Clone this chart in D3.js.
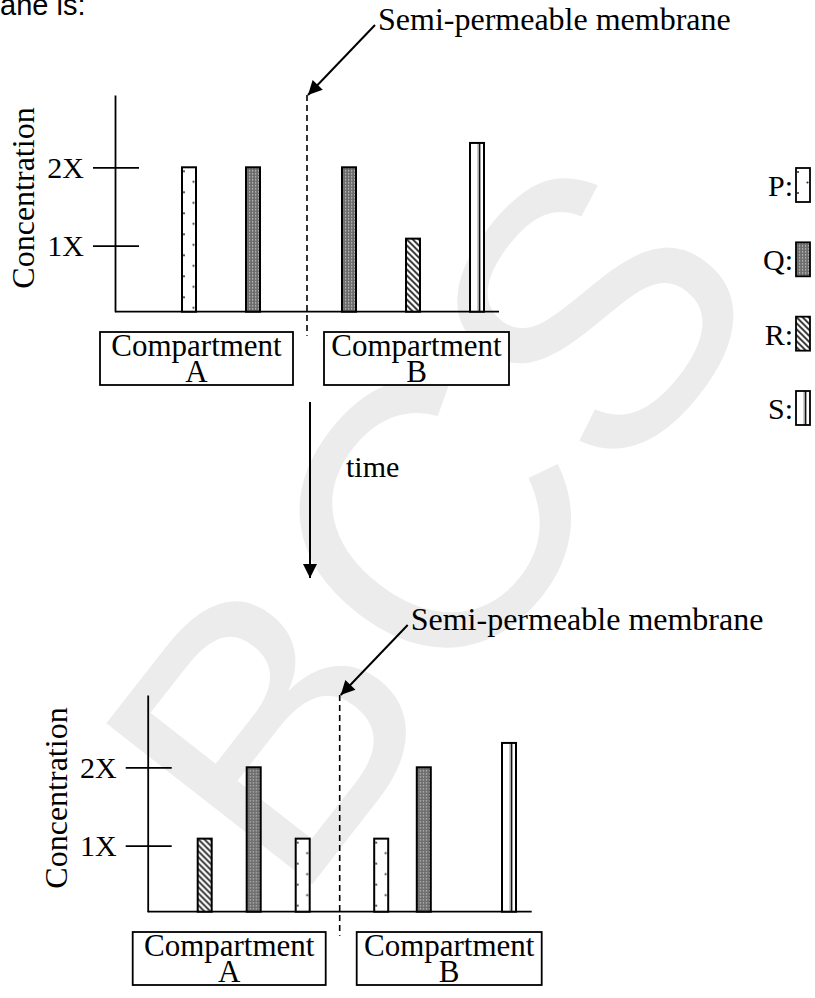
<!DOCTYPE html>
<html>
<head>
<meta charset="utf-8">
<script src="https://cdn.jsdelivr.net/npm/d3@7"></script>
<style>
  body { margin: 0; background: #fff; }
  svg { display: block; }
  text { font-family: "Liberation Serif", "Times New Roman", serif; fill: #000; }
</style>
</head>
<body>
<svg width="815" height="998"></svg>
<script>
// species shown in the legend
var species = ["P", "Q", "R", "S"];

// concentration ticks (multiples of X)
var tickValues = [1, 2];
var tickLabels = ["1X", "2X"];

// before: compartment A / B
var beforeASpecies = ["P", "Q"];
var beforeAValues = [2, 2];
var beforeBSpecies = ["Q", "R", "S"];
var beforeBValues = [2, 1.09, 2.31];

// after time: compartment A / B (R is gone from B)
var afterASpecies = ["R", "Q", "P"];
var afterAValues = [1.09, 2, 1.09];
var afterBSpecies = ["P", "Q", "R", "S"];
var afterBValues = [1.09, 2, 0, 2.31];

var svg = d3.select("svg");

// watermark behind everything
svg.append("text")
	.attr("transform", "translate(430,520) rotate(-52)")
	.attr("text-anchor", "middle")
	.attr("dominant-baseline", "central")
	.style("font-family", "'Liberation Sans', Arial, sans-serif")
	.style("font-size", "380px")
	.style("fill", "#ececec")
	.text("BCS");

var defs = svg.append("defs");

// fill patterns, tiles start at each bar's own top-left corner
var pP = defs.append("pattern").attr("id", "pat-P")
	.attr("patternUnits", "userSpaceOnUse").attr("width", 14).attr("height", 21);
pP.append("rect").attr("width", 14).attr("height", 21).attr("fill", "#fff");
pP.append("circle").attr("cx", 2).attr("cy", 4).attr("r", 1.1).attr("fill", "#333");
pP.append("circle").attr("cx", 11.5).attr("cy", 14.5).attr("r", 1.1).attr("fill", "#333");

var pQ = defs.append("pattern").attr("id", "pat-Q")
	.attr("patternUnits", "userSpaceOnUse").attr("width", 3).attr("height", 3);
pQ.append("rect").attr("width", 3).attr("height", 3).attr("fill", "#6c6c6c");
pQ.append("rect").attr("width", 1.2).attr("height", 1.2).attr("fill", "#d0d0d0");

var pR = defs.append("pattern").attr("id", "pat-R")
	.attr("patternUnits", "userSpaceOnUse").attr("width", 6).attr("height", 6);
pR.append("rect").attr("width", 6).attr("height", 6).attr("fill", "#fff");
pR.append("path").attr("d", "M-1,-1L7,7M-4,2L2,8M2,-4L8,2")
	.attr("stroke", "#222").attr("stroke-width", 1.8);

var pS = defs.append("pattern").attr("id", "pat-S")
	.attr("patternUnits", "userSpaceOnUse").attr("width", 14).attr("height", 10);
pS.append("rect").attr("width", 14).attr("height", 10).attr("fill", "#fff");
pS.append("line").attr("x1", 8).attr("x2", 8).attr("y1", 0).attr("y2", 10)
	.attr("stroke", "#999").attr("stroke-width", 1);
pS.append("line").attr("x1", 9.6).attr("x2", 9.6).attr("y1", 0).attr("y2", 10)
	.attr("stroke", "#111").attr("stroke-width", 1.6);

defs.append("marker").attr("id", "arrow")
	.attr("viewBox", "0 0 10 10").attr("refX", 10).attr("refY", 5)
	.attr("markerUnits", "userSpaceOnUse")
	.attr("markerWidth", 18).attr("markerHeight", 14)
	.attr("orient", "auto")
	.append("path").attr("d", "M0,0L10,5L0,10z").attr("fill", "#000");

var barW = 14;

function panel(ox, oy, aSpecies, aValues, bSpecies, bValues, aRange, bRange) {
	var g = svg.append("g").attr("transform", "translate(" + ox + "," + oy + ")");

	var y = d3.scaleLinear()
		.domain([0, 1, 2, 2.92])
		.range([216.7, 150.7, 72.3, 0]);

	var xA = d3.scalePoint().domain(aSpecies).range(aRange);
	var xB = d3.scalePoint().domain(bSpecies).range(bRange);

	// y axis with ticks crossing the line
	var axis = g.append("g")
		.call(d3.axisLeft(y).tickValues(tickValues).tickSize(22).tickSizeOuter(0)
			.tickFormat(function(d, i) { return tickLabels[i]; }));
	axis.attr("font-family", null).attr("font-size", null);
	axis.select(".domain").attr("stroke-width", 1.8);
	axis.selectAll(".tick line").attr("x1", 24).attr("x2", -22).attr("stroke-width", 1.8);
	axis.selectAll(".tick text").attr("x", -31).attr("dy", "0.34em")
		.style("font-size", "30px");

	g.append("line")
		.attr("x1", 0).attr("x2", 384)
		.attr("y1", y(0)).attr("y2", y(0))
		.attr("stroke", "#000").attr("stroke-width", 1.8);

	g.append("text")
		.attr("transform", "translate(-81,103) rotate(-90)")
		.attr("text-anchor", "middle")
		.style("font-size", "32px")
		.text("Concentration");

	// membrane
	g.append("line")
		.attr("x1", 192).attr("x2", 192)
		.attr("y1", 0).attr("y2", y(0) + 24)
		.attr("stroke", "#000").attr("stroke-width", 1.6)
		.attr("stroke-dasharray", "6,4");

	g.append("line")
		.attr("x1", 260).attr("y1", -70)
		.attr("x2", 193).attr("y2", 0)
		.attr("stroke", "#000").attr("stroke-width", 2)
		.attr("marker-end", "url(#arrow)");

	g.append("text")
		.attr("x", 263).attr("y", -65)
		.style("font-size", "32px")
		.text("Semi-permeable membrane");

	function bars(sp, vals, x) {
		var data = sp.map(function(s, i) { return {s: s, v: vals[i]}; })
			.filter(function(d) { return d.v > 0; });
		var bar = g.append("g").selectAll("g")
			.data(data)
			.enter().append("g")
			.attr("transform", function(d) {
				return "translate(" + (x(d.s) - barW / 2) + "," + y(d.v) + ")";
			});
		bar.append("rect")
			.attr("width", barW)
			.attr("height", function(d) { return y(0) - y(d.v); })
			.attr("fill", function(d) { return "url(#pat-" + d.s + ")"; })
			.attr("stroke", "#000").attr("stroke-width", 2);
	}
	bars(aSpecies, aValues, xA);
	bars(bSpecies, bValues, xB);

	// compartment boxes
	var boxes = [{name: "A", x0: -15, x1: 178}, {name: "B", x0: 209, x1: 394}];
	var box = g.append("g").selectAll("g")
		.data(boxes)
		.enter().append("g");
	box.append("rect")
		.attr("x", function(d) { return d.x0; })
		.attr("y", 237)
		.attr("width", function(d) { return d.x1 - d.x0; })
		.attr("height", 53)
		.attr("fill", "#fff")
		.attr("stroke", "#000").attr("stroke-width", 1.8);
	box.append("text")
		.attr("x", function(d) { return (d.x0 + d.x1) / 2; })
		.attr("y", 261)
		.attr("text-anchor", "middle")
		.style("font-size", "31px")
		.text("Compartment");
	box.append("text")
		.attr("x", function(d) { return (d.x0 + d.x1) / 2; })
		.attr("y", 287)
		.attr("text-anchor", "middle")
		.style("font-size", "31px")
		.text(function(d) { return d.name; });
}

panel(115, 95, beforeASpecies, beforeAValues, beforeBSpecies, beforeBValues, [74, 138], [234, 362]);
panel(147.7, 695, afterASpecies, afterAValues, afterBSpecies, afterBValues, [57, 155], [233.5, 361.3]);

// legend
var ly = d3.scalePoint().domain(species).range([185, 408]);
var leg = svg.append("g").selectAll("g")
	.data(species)
	.enter().append("g")
	.attr("transform", function(d) { return "translate(796," + (ly(d) - 17) + ")"; });
leg.append("rect")
	.attr("width", barW).attr("height", 34)
	.attr("fill", function(d) { return "url(#pat-" + d + ")"; })
	.attr("stroke", "#000").attr("stroke-width", 1.8);
leg.append("text")
	.attr("x", -3).attr("y", 28)
	.attr("text-anchor", "end")
	.style("font-size", "30px")
	.text(function(d) { return d + ":"; });

// time arrow
svg.append("line")
	.attr("x1", 310).attr("x2", 310)
	.attr("y1", 402).attr("y2", 578)
	.attr("stroke", "#000").attr("stroke-width", 2)
	.attr("marker-end", "url(#arrow)");
svg.append("text")
	.attr("x", 346).attr("y", 477)
	.style("font-size", "30px")
	.text("time");

// cut-off line of the question above
svg.append("text")
	.attr("x", 0).attr("y", 15)
	.style("font-family", "'Liberation Sans', Arial, sans-serif")
	.style("font-size", "29px")
	.text("ane is:");
</script>
</body>
</html>
